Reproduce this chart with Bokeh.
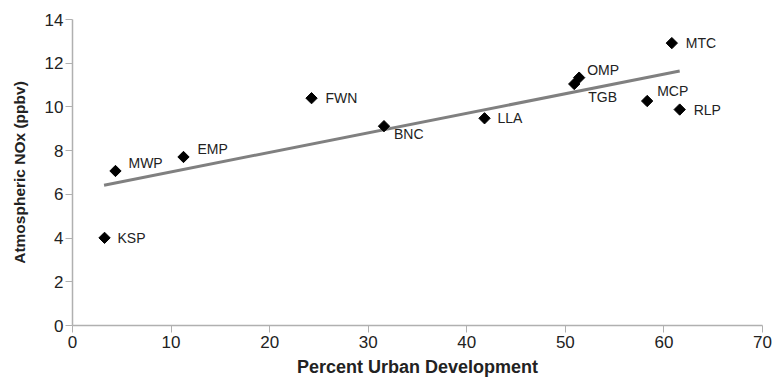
import math
from bokeh.plotting import figure
from bokeh.models import Range1d, ColumnDataSource, FixedTicker
from bokeh.core.properties import value
from bokeh.embed import file_html
from bokeh.resources import INLINE

# Data
sites = ["KSP", "MWP", "EMP", "FWN", "BNC", "LLA", "TGB", "OMP", "MCP", "RLP", "MTC"]
urban_pct = [3.25, 4.36, 11.26, 24.25, 31.6, 41.8, 50.9, 51.4, 58.3, 61.6, 60.8]
nox_ppbv = [4.01, 7.07, 7.71, 10.40, 9.12, 9.48, 11.05, 11.34, 10.27, 9.88, 12.92]

# Trend line endpoints
trend_x = [3.2, 61.6]
trend_y = [6.42, 11.64]

x_ticks = [0, 10, 20, 30, 40, 50, 60, 70]
y_ticks = [0, 2, 4, 6, 8, 10, 12, 14]

# Label placement (pixel offsets, styling only)
label_dx = [13, 13, 14, 14, 10, 13, 14, 8, 10, 14, 14]
label_dy = [0, -8, -8, 0, 8, 0, 13, -8, -10, 0, 0]

FONT = "Liberation Sans"

p = figure(width=784, height=379, output_backend="svg", toolbar_location=None,
           x_range=Range1d(0, 70), y_range=Range1d(0, 14),
           min_border_left=72, min_border_right=22, min_border_top=19, min_border_bottom=53)
p.outline_line_color = None
p.grid.visible = False
p.background_fill_color = "white"

src = ColumnDataSource(dict(x=urban_pct, y=nox_ppbv, name=sites, dx=label_dx, dy=label_dy))

p.line(trend_x, trend_y, line_color="#808080", line_width=3)
p.scatter("x", "y", source=src, marker="square", angle=math.pi / 4, size=8,
          fill_color="black", line_color="black")
p.text("x", "y", text="name", source=src, x_offset="dx", y_offset="dy",
       text_font=value(FONT), text_font_size="14px", text_color="#222222",
       text_baseline="middle", text_align="left")

for ax in (p.xaxis[0], p.yaxis[0]):
    ax.axis_line_color = "#b0b0b0"
    ax.axis_line_width = 1.5
    ax.major_tick_line_color = "#b0b0b0"
    ax.major_tick_out = 7
    ax.major_tick_in = 0
    ax.minor_tick_line_color = None
    ax.major_label_text_font = FONT
    ax.major_label_text_font_size = "17px"
    ax.major_label_text_color = "#222222"
    ax.axis_label_text_font = FONT
    ax.axis_label_text_font_style = "bold"
    ax.axis_label_text_color = "#222222"

p.xaxis.ticker = FixedTicker(ticks=x_ticks)
p.yaxis.ticker = FixedTicker(ticks=y_ticks)
p.xaxis.axis_label = "Percent Urban Development"
p.yaxis.axis_label = "Atmospheric NOx (ppbv)"
p.xaxis.axis_label_text_font_size = "18px"
p.yaxis.axis_label_text_font_size = "15.5px"
p.xaxis.major_label_standoff = 3
p.yaxis.major_label_standoff = 2
p.xaxis.axis_label_standoff = 6
p.yaxis.axis_label_standoff = 14

open("out.html", "w").write(file_html(p, INLINE))
